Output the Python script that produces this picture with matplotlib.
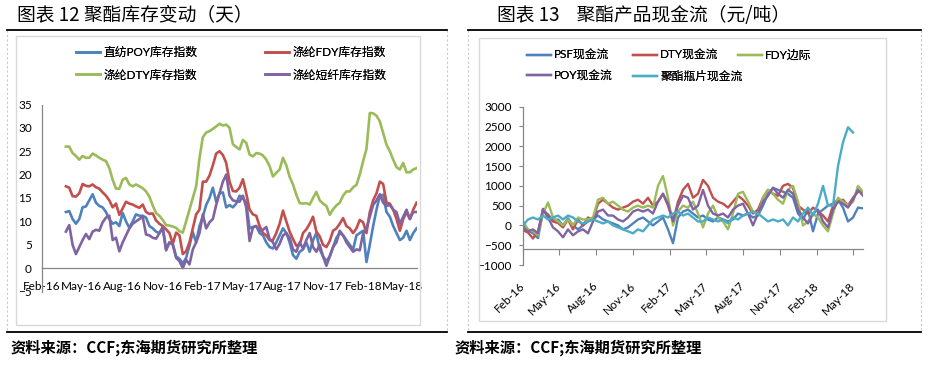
import numpy as np
import pandas as pd
import matplotlib
matplotlib.use("Agg")
import matplotlib.pyplot as plt
import matplotlib.dates as mdates
from matplotlib.patches import Rectangle
from matplotlib.lines import Line2D

# ---------------- data: chart 12, weekly inventory days ----------------
inv_start, inv_end = "2016-03-26", "2018-06-01"

poy_inv = [12.0, 12.2, 10.5, 9.5, 10.5, 13.0, 13.2, 14.5, 15.8, 14.0,
           13.3, 13.0, 12.0, 10.5, 9.5, 9.8, 9.0, 11.8, 10.0, 8.6,
           10.0, 11.5, 11.2, 11.2, 10.8, 9.0, 8.5, 7.8, 7.5, 8.5,
           4.0, 5.5, 5.2, 2.5, 2.0, 1.0, 2.2, 4.8, 7.7, 5.5,
           9.0, 11.0, 13.5, 15.0, 17.2, 14.2, 16.0, 16.2, 13.0, 13.5,
           13.0, 13.8, 15.5, 15.0, 14.0, 8.5, 8.8, 9.0, 7.5, 7.0,
           5.5, 4.5, 4.2, 5.5, 7.0, 8.5, 7.5, 5.5, 2.8, 2.0,
           3.5, 4.0, 5.5, 3.5, 6.0, 7.5, 4.0, 2.5, 1.5, 2.5,
           4.5, 6.5, 7.5, 7.0, 6.0, 5.0, 4.0, 7.0, 7.5, 8.0,
           1.3, 5.0, 9.0, 12.5, 15.5, 15.7, 12.0, 11.0, 9.0, 7.5,
           6.0, 6.5, 8.0, 6.0, 7.5, 8.5]

fdy_inv = [17.5, 17.2, 15.4, 15.3, 16.0, 18.0, 17.6, 17.5, 17.9, 17.3,
           17.0, 16.2, 15.5, 14.5, 13.0, 13.8, 11.4, 12.8, 14.2, 13.8,
           13.6, 13.2, 12.9, 13.6, 12.0, 11.6, 11.7, 10.2, 9.5, 9.0,
           8.3, 7.5, 5.2, 7.6, 7.0, 3.0, 3.6, 5.5, 8.5, 11.5,
           12.5, 18.5, 18.5, 19.8, 22.0, 24.5, 25.0, 24.2, 22.5, 18.5,
           16.5, 16.4, 17.2, 19.0, 16.0, 12.5, 11.5, 11.2, 9.0, 7.5,
           7.0, 6.0, 6.0, 7.5, 9.5, 12.3, 10.0, 7.8, 6.2, 4.8,
           5.0, 7.5, 8.3, 9.5, 11.0, 7.8, 6.8, 5.0, 4.5, 5.8,
           8.0, 8.5, 9.5, 10.7, 9.0, 8.5, 7.5, 8.5, 10.3, 9.8,
           7.5, 12.0, 14.5, 16.0, 18.5, 18.0, 14.0, 13.8, 12.5, 10.5,
           8.0, 10.5, 12.0, 10.5, 12.5, 14.0]

dty_inv = [26.0, 26.0, 24.6, 24.0, 23.2, 24.0, 23.6, 23.6, 24.5, 24.1,
           23.6, 23.2, 22.9, 21.4, 18.9, 17.0, 17.0, 18.9, 19.3, 17.9,
           17.5, 17.9, 17.5, 17.1, 16.4, 15.3, 13.4, 11.8, 11.2, 10.3,
           9.2, 9.1, 8.9, 8.6, 7.9, 7.6, 10.0, 12.5, 15.0, 17.5,
           23.5, 28.0, 29.0, 29.3, 29.8, 30.3, 30.9, 30.5, 30.7, 30.0,
           26.5, 25.9, 25.4, 27.4, 26.8, 24.3, 23.9, 24.6, 24.5, 24.1,
           23.2, 21.8, 19.6, 20.4, 21.1, 23.6, 22.0, 19.5, 17.9, 15.7,
           13.9, 13.8, 13.9, 13.6, 15.0, 16.3, 14.5, 13.8, 13.3, 11.4,
           12.6, 13.4, 14.0, 15.5, 16.4, 16.4, 17.3, 17.8, 20.0, 22.9,
           25.5, 33.2, 33.1, 32.6, 31.4, 28.9, 26.4, 25.0, 23.2, 21.6,
           21.1, 22.5, 20.5, 20.5, 21.1, 21.4]

psf_inv = [7.8, 9.2, 5.0, 3.0, 4.5, 6.0, 7.3, 6.2, 7.8, 8.2,
           8.0, 9.8, 10.8, 11.2, 6.0, 6.5, 3.6, 5.5, 7.0, 8.5,
           9.5, 10.0, 10.5, 11.0, 7.2, 7.0, 6.5, 6.3, 7.5, 8.8,
           3.8, 5.5, 5.0, 2.2, 1.5, 0.0, 1.8, 0.8, 4.0, 5.5,
           7.5, 11.5, 8.5, 9.8, 10.5, 13.5, 16.0, 18.5, 20.0, 15.5,
           14.5, 14.3, 14.2, 15.5, 13.0, 5.8, 8.7, 9.0, 8.0, 8.2,
           8.8, 6.2, 5.5, 4.0, 5.2, 7.0, 7.5, 6.5, 4.0, 3.5,
           5.5, 4.2, 6.0, 7.5, 4.5, 3.5, 5.0, 2.5, 0.5, 2.5,
           4.5, 5.5, 8.0, 7.0, 5.5, 4.5, 3.5, 4.0, 3.8, 7.5,
           8.5, 11.0, 13.5, 14.5, 15.8, 14.0, 13.3, 13.5, 12.5, 12.0,
           9.5, 11.0, 12.5, 10.5, 12.0, 12.0]

inv_labels = ["直纺POY库存指数", "涤纶FDY库存指数", "涤纶DTY库存指数", "涤纶短纤库存指数"]

# ---------------- data: chart 13, cash flow (yuan/ton) ----------------
cf_start, cf_end = "2016-02-01", "2018-05-25"

psf_cf = [0, -120, -200, -320, 350, 280, 120, 150, 0, 180,
          0, -100, 0, 100, 150, 250, 150, 100, 50, 0,
          -100, -50, 50, 150, 200, 100, 0, 100, 200, -100,
          -450, 200, 350, 400, 300, 200, 250, 150, 100, 200,
          150, 100, 150, 300, 250, 300, 200, 250, 500, 800,
          950, 900, 850, 800, 700, 300, 150, 400, -150, 300,
          400, 500, 550, 650, 450, 100, 200, 450, 430]

dty_cf = [-120, -180, -330, -150, 420, 250, 100, 60, -50, 150,
          -100, 150, 0, 200, 150, 550, 650, 550, 450, 400,
          450, 500, 600, 650, 550, 700, 500, 600, 800, 500,
          100, 600, 900, 1050, 700, 800, 1150, 1000, 700, 600,
          550, 450, 600, 750, 650, 500, 300, 400, 700, 900,
          800, 750, 1000, 1050, 950, 500, 400, 300, 450, 350,
          250, 100, 500, 600, 650, 500, 700, 850, 850]

fdy_margin = [100, -100, -150, -250, 300, 580, 200, 100, 0, 150,
              0, 200, 150, 150, 200, 650, 700, 550, 600, 500,
              400, 350, 450, 500, 450, 500, 450, 1000, 1250, 700,
              0, 350, 500, 450, 600, 300, -50, 300, 500, 200,
              100, -100, 300, 800, 850, 600, 350, 250, 700, 900,
              800, 650, 550, 900, 1000, 600, 0, 100, 300, 200,
              0, -150, 300, 700, 600, 500, 600, 1000, 850]

poy_cf = [-50, -150, -100, -200, 400, 200, -50, -150, -300, -100,
          -250, -150, -100, -200, 100, 350, 400, 250, 250, 150,
          100, 200, 350, 400, 350, 400, 300, 600, 800, 550,
          100, 500, 750, 700, 400, 500, 900, 500, 300, 250,
          300, 200, 400, 500, 550, 300, 0, 300, 600, 750,
          950, 800, 700, 900, 800, 400, 200, 50, 300, 400,
          100, -50, 400, 600, 550, 450, 650, 900, 750]

bottle_cf = [0, 150, 200, 150, 250, 150, 200, 250, 150, 250,
             200, 100, 50, 100, 150, 100, 50, 100, 0, -50,
             -100, -150, -200, -100, -150, 0, 150, 200, 250, 200,
             300, 350, 250, 300, 200, 100, 100, 200, 150, 100,
             150, 50, 200, 150, 250, 300, 350, 300, 200, 100,
             150, 100, 150, 0, 200, 100, 300, 450, 250, 550,
             1000, 500, 500, 1500, 2100, 2480, 2350, np.nan, np.nan]

cf_labels = ["PSF现金流", "DTY现金流", "FDY边际", "POY现金流", "聚酯瓶片现金流"]

BLUE, RED, GREEN, PURPLE, CYAN = "#4F81BD", "#C0504D", "#9BBB59", "#8064A2", "#4BACC6"
AXIS = "#868686"
FONT = ["Lato", "Noto Sans CJK SC", "DejaVu Sans"]
CJK = ["Noto Sans CJK SC", "DejaVu Sans"]
plt.rcParams["font.family"] = FONT

W, H = 929, 366
fig = plt.figure(figsize=(W / 100, H / 100), dpi=100)


def fx(px):
    return px / W


def fy(py):
    return 1 - py / H


def box(x0, y0, x1, y1, **kw):
    fig.patches.append(Rectangle((fx(x0), fy(y1)), fx(x1) - fx(x0), fy(y0) - fy(y1),
                                 transform=fig.transFigure, fill=False, **kw))


def hline(x0, x1, y, **kw):
    fig.lines.append(Line2D([fx(x0), fx(x1)], [fy(y), fy(y)], transform=fig.transFigure, **kw))


def vline(x, y0, y1, **kw):
    fig.lines.append(Line2D([fx(x), fx(x)], [fy(y0), fy(y1)], transform=fig.transFigure, **kw))


def legend_col(handles, labels, x, y, spacing):
    # one legend column, handle line starts at pixel x, first row centred near y
    leg = fig.legend(handles, labels, loc="upper left", bbox_to_anchor=(fx(x), fy(y - 10)),
                     ncol=1, frameon=False, fontsize=8.5, handlelength=2.0,
                     handletextpad=0.3, labelspacing=spacing, borderpad=0,
                     borderaxespad=0)
    fig.add_artist(leg)


# frames around the two panels
for x0, x1 in [(7, 447), (468, 921)]:
    vline(x0, 30, 332, color="#C8C8C8", lw=0.8, ls=(0, (2, 2)))
    vline(x1, 30, 332, color="#C8C8C8", lw=0.8, ls=(0, (2, 2)))
    hline(x0, x1, 30, color="black", lw=1.3)
    hline(x0, x1, 332, color="black", lw=1.3)
box(16, 36, 420, 325, edgecolor="#D9D9D9", lw=1.0)
box(479, 38, 886, 321, edgecolor="#D9D9D9", lw=1.0)

# titles and sources
fig.text(fx(17), fy(15), "图表 12 聚酯库存变动（天）", fontsize=13.5, va="center", family=CJK)
fig.text(fx(497), fy(15), "图表 13    聚酯产品现金流（元/吨）", fontsize=13.5, va="center",
         family=CJK)
for x0 in (11, 455):
    fig.text(fx(x0), fy(348), "资料来源：CCF;东海期货研究所整理", fontsize=11, va="center",
             fontweight="bold", family=CJK)

# ---------------- left chart ----------------
inv_dates = pd.date_range(inv_start, inv_end, periods=len(poy_inv))
ax1 = fig.add_axes([fx(41.7), fy(291.5), fx(417) - fx(41.7), fy(104.5) - fy(291.5)])
h_poy, = ax1.plot(inv_dates, poy_inv, color=BLUE, lw=1.9)
h_fdy, = ax1.plot(inv_dates, fdy_inv, color=RED, lw=1.9)
h_dty, = ax1.plot(inv_dates, dty_inv, color=GREEN, lw=1.9)
h_psf, = ax1.plot(inv_dates, psf_inv, color=PURPLE, lw=1.9)
ax1.set_ylim(-5, 35)
ax1.set_yticks(range(-5, 36, 5))
ax1.set_xlim(pd.Timestamp("2016-01-31"), pd.Timestamp("2018-06-02"))
ax1.xaxis.set_major_locator(mdates.MonthLocator(bymonth=(2, 5, 8, 11)))
ax1.xaxis.set_major_formatter(mdates.DateFormatter("%b-%y"))
ax1.spines["bottom"].set_position(("data", 0))
for s in ("top", "right"):
    ax1.spines[s].set_visible(False)
for s in ("left", "bottom"):
    ax1.spines[s].set_color(AXIS)
    ax1.spines[s].set_linewidth(0.9)
ax1.tick_params(axis="x", length=0, pad=9, labelsize=8.5)
ax1.tick_params(axis="y", length=0, pad=7, labelsize=8.5)
ax1.patch.set_alpha(0)

legend_col([h_poy, h_dty], [inv_labels[0], inv_labels[2]], 76, 57, 0.95)
legend_col([h_fdy, h_psf], [inv_labels[1], inv_labels[3]], 265, 57, 0.95)

# ---------------- right chart ----------------
cf_dates = pd.date_range(cf_start, cf_end, periods=len(psf_cf))
ax2 = fig.add_axes([fx(523), fy(265), fx(863) - fx(523), fy(106.7) - fy(265)])
g_psf, = ax2.plot(cf_dates, psf_cf, color=BLUE, lw=1.7)
g_dty, = ax2.plot(cf_dates, dty_cf, color=RED, lw=1.7)
g_fdy, = ax2.plot(cf_dates, fdy_margin, color=GREEN, lw=1.7)
g_poy, = ax2.plot(cf_dates, poy_cf, color=PURPLE, lw=1.7)
g_bot, = ax2.plot(cf_dates, bottle_cf, color=CYAN, lw=1.7)
ax2.set_ylim(-1000, 3000)
ax2.set_yticks(range(-1000, 3001, 500))
ax2.set_xlim(pd.Timestamp("2016-02-01"), pd.Timestamp("2018-05-25"))
ax2.xaxis.set_major_locator(mdates.MonthLocator(bymonth=(2, 5, 8, 11)))
ax2.xaxis.set_major_formatter(mdates.DateFormatter("%b-%y"))
ax2.spines["bottom"].set_position(("data", -600))
for s in ("top", "right"):
    ax2.spines[s].set_visible(False)
for s in ("left", "bottom"):
    ax2.spines[s].set_color(AXIS)
    ax2.spines[s].set_linewidth(0.9)
ax2.tick_params(axis="x", length=4, color=AXIS, pad=21, labelsize=8.5)
ax2.tick_params(axis="y", length=3, color=AXIS, pad=5, labelsize=8.5)
for lab in ax2.get_xticklabels():
    lab.set_rotation(45)
    lab.set_ha("right")
    lab.set_va("center")
    lab.set_rotation_mode("anchor")
ax2.patch.set_alpha(0)

legend_col([g_psf, g_poy], [cf_labels[0], cf_labels[3]], 527, 60, 0.8)
legend_col([g_dty, g_bot], [cf_labels[1], cf_labels[4]], 633, 60, 0.8)
legend_col([g_fdy], [cf_labels[2]], 738, 60, 0.8)

fig.savefig("out.png", dpi=100)
